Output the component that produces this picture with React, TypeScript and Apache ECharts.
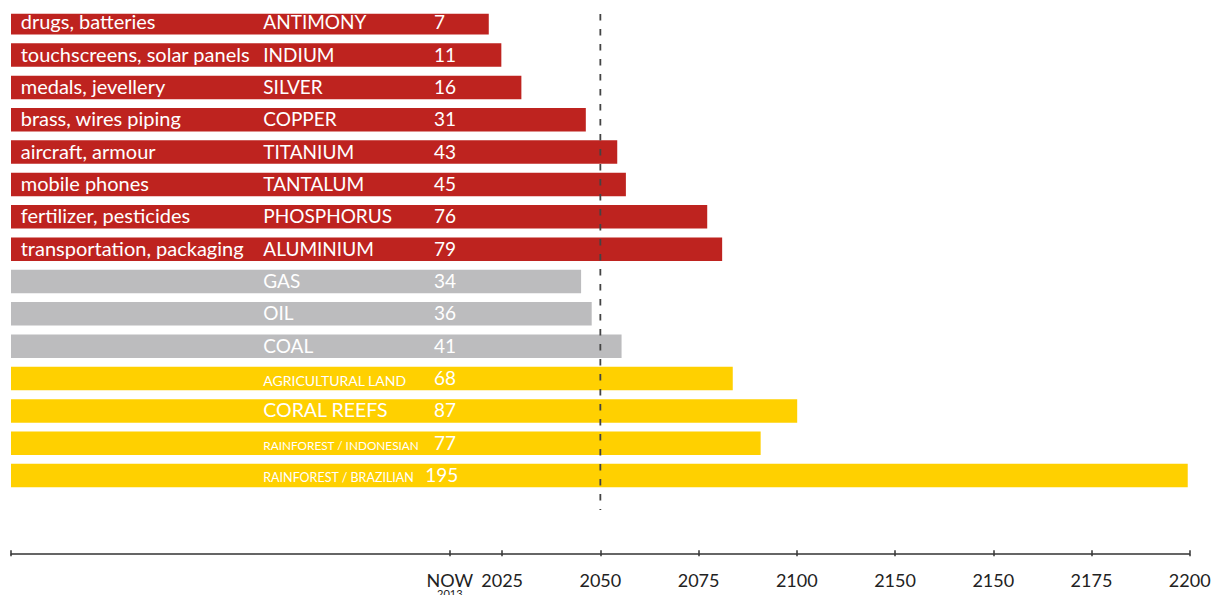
import React, { useEffect, useRef } from "react";
import * as echarts from "echarts";

// ---- data ----
const elements = [
  "ANTIMONY", "INDIUM", "SILVER", "COPPER", "TITANIUM", "TANTALUM", "PHOSPHORUS", "ALUMINIUM",
  "GAS", "OIL", "COAL",
  "AGRICULTURAL LAND", "CORAL REEFS", "RAINFOREST / INDONESIAN", "RAINFOREST / BRAZILIAN",
];
const uses = [
  "drugs, batteries", "touchscreens, solar panels", "medals, jevellery", "brass, wires piping",
  "aircraft, armour", "mobile phones", "fertilizer, pesticides", "transportation, packaging",
  "", "", "", "", "", "", "",
];
const yearsLeft = [7, 11, 16, 31, 43, 45, 76, 79, 34, 36, 41, 68, 87, 77, 195];
// where each bar ends on the time axis
const barEndYear = [
  2021.6, 2024.8, 2029.9, 2046.3, 2054.3, 2056.5, 2077.2, 2081.0,
  2045.1, 2047.8, 2055.4,
  2083.7, 2100.1, 2090.8, 2199.5,
];
const groups = [
  "metal", "metal", "metal", "metal", "metal", "metal", "metal", "metal",
  "fossil", "fossil", "fossil",
  "nature", "nature", "nature", "nature",
];
const axisMin = 1900;
const axisMax = 2200;
const tickYears = [1900, 2011.7, 2025, 2050, 2075, 2100, 2125, 2150, 2175, 2200];
const labelYears = [2011.7, 2025, 2050, 2075, 2100, 2125, 2150, 2175, 2200];
const tickLabels = ["NOW", "2025", "2050", "2075", "2100", "2150", "2150", "2175", "2200"];
const nowYear = "2013";
const markerYear = 2050;

// ---- styles ----
const FONT = "Lato";
const groupColors: Record<string, string> = {
  metal: "#BE231F",
  fossil: "#BCBCBE",
  nature: "#FFD000",
};
const nameStyleKey: Record<string, string> = {
  "AGRICULTURAL LAND": "ns",
  "CORAL REEFS": "nl",
  "RAINFOREST / INDONESIAN": "nxs",
  "RAINFOREST / BRAZILIAN": "nxs2",
};

export default function App() {
  const ref = useRef<HTMLDivElement>(null);
  useEffect(() => {
    if (!ref.current) return;
    const chart = echarts.init(ref.current, undefined, { renderer: "svg" });
    const white = "#ffffff";
    const tok = (fontSize: number, width?: number) => ({
      fontFamily: FONT,
      fontSize,
      color: white,
      verticalAlign: "bottom",
      ...(width ? { width } : {}),
    });
    const option: any = {
      animation: false,
      backgroundColor: "#ffffff",
      grid: {
        left: 11,
        right: 29.3,
        top: 6.5,
        bottom: 103.25,
        containLabel: false,
        outerBoundsMode: "none",
      },
      xAxis: [
        {
          type: "value",
          gridIndex: 0,
          position: "bottom",
          min: axisMin,
          max: axisMax,
          offset: 61.5,
          splitLine: { show: false },
          axisLine: { show: true, lineStyle: { color: "#333", width: 1.5 } },
          axisTick: {
            show: true,
            length: 3,
            customValues: tickYears,
            lineStyle: { color: "#333", width: 1.5 },
          },
          axisLabel: {
            show: true,
            customValues: labelYears,
            margin: 17.5,
            formatter: (v: number) => {
              const i = labelYears.findIndex((y) => Math.abs(y - v) < 0.01);
              if (i < 0) return "";
              if (i === 0) return `{a|${tickLabels[i]}}\n{b|${nowYear}}`;
              return `{a|${tickLabels[i]}}`;
            },
            rich: {
              a: { fontFamily: FONT, fontSize: 18, color: "#222", lineHeight: 19 },
              b: { fontFamily: FONT, fontSize: 11, color: "#222", lineHeight: 8 },
            },
          },
        },
        {
          type: "value",
          gridIndex: 0,
          position: "bottom",
          min: axisMin,
          max: axisMax,
          offset: 61.5,
          splitLine: { show: false },
          axisLine: { show: false },
          axisTick: {
            show: true,
            inside: true,
            length: 3,
            customValues: tickYears,
            lineStyle: { color: "#333", width: 1.5 },
          },
          axisLabel: { show: false },
        },
      ],
      yAxis: {
        type: "category",
        inverse: true,
        data: elements,
        show: false,
      },
      series: [
        {
          type: "bar",
          xAxisIndex: 0,
          barWidth: 23.5,
          data: barEndYear.map((v, i) => ({
            value: v,
            itemStyle: { color: groupColors[groups[i]] },
          })),
          label: {
            show: true,
            position: "insideLeft",
            distance: 9.7,
            offset: [0, -1.5],
            color: white,
            formatter: (p: any) => {
              const i = p.dataIndex;
              const d = uses[i] || " ";
              const key = nameStyleKey[elements[i]] || "n";
              return `{d|${d}}{${key}|${elements[i]}}{v|${yearsLeft[i]}}`;
            },
            rich: {
              d: tok(20, 242.6),
              n: tok(19, 170.7),
              nl: tok(19.5, 170.7),
              ns: tok(14, 170.7),
              nxs: tok(11.8, 170.7),
              nxs2: tok(12.5, 162),
              v: tok(19),
            },
          },
        },
      ],
    };
    chart.setOption(option);
    const x = chart.convertToPixel({ xAxisIndex: 0 }, markerYear) as number;
    chart.setOption({
      graphic: [
        {
          type: "rect",
          z: 99,
          shape: { x: 0, y: 0, width: 1219, height: 13.7 },
          style: { fill: "#ffffff" },
        },
        {
          type: "line",
          z: 100,
          shape: { x1: x, y1: 14, x2: x, y2: 510 },
          style: { stroke: "#444", lineWidth: 1.8, lineDash: [6.5, 8.5] },
        },
      ],
    });
    return () => chart.dispose();
  }, []);
  return (
    <div
      ref={ref}
      style={{ position: "fixed", left: 0, top: 0, width: 1219, height: 595 }}
    />
  );
}
